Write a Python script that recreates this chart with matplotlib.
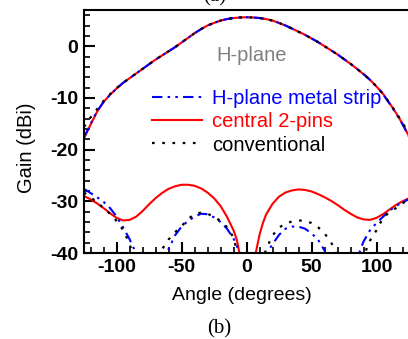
import numpy as np
import matplotlib
matplotlib.use("Agg")
import matplotlib.pyplot as plt
from matplotlib.ticker import MultipleLocator

plt.rcParams["font.family"] = ["Liberation Sans", "DejaVu Sans"]
plt.rcParams["axes.unicode_minus"] = False

# co-polar (main beam)
co_angle = [-125, -120, -115, -110, -105, -100, -95, -90, -85, -80, -75, -70, -65, -60, -55,
            -50, -45, -40, -35, -30, -25, -20, -15, -10, -5, 0, 5, 10, 15, 20, 25, 30, 35,
            40, 45, 50, 55, 60, 65, 70, 75, 80, 85, 90, 95, 100, 105, 110, 115, 120, 125]
co_pins = [-17.8, -15.2, -12.7, -10.8, -9.4, -8.2, -7.1, -6.2, -5.3, -4.4, -3.5, -2.6, -1.8, -1.0, -0.2,
           0.7, 1.6, 2.5, 3.3, 4.0, 4.5, 4.95, 5.25, 5.45, 5.55, 5.6, 5.55, 5.45, 5.25, 4.95, 4.5, 4.0, 3.4,
           2.8, 2.2, 1.5, 0.8, 0.0, -0.8, -1.6, -2.5, -3.4, -4.4, -5.4, -6.5, -7.8, -9.2, -11.0, -12.9, -15.0, -17.4]
co_strip = [-17.6, -15.1, -12.6, -10.8, -9.4, -8.2, -7.1, -6.2, -5.3, -4.4, -3.5, -2.6, -1.8, -1.0, -0.2,
            0.7, 1.6, 2.5, 3.3, 4.0, 4.5, 4.95, 5.25, 5.45, 5.55, 5.6, 5.55, 5.45, 5.25, 4.95, 4.5, 4.0, 3.4,
            2.8, 2.2, 1.5, 0.8, 0.0, -0.8, -1.6, -2.5, -3.4, -4.4, -5.4, -6.5, -7.8, -9.3, -11.1, -13.0, -15.1, -17.5]
co_conv = [-15.6, -13.8, -12.2, -10.6, -9.3, -8.1, -7.1, -6.2, -5.3, -4.4, -3.5, -2.6, -1.8, -1.0, -0.2,
           0.7, 1.6, 2.5, 3.3, 4.0, 4.5, 4.95, 5.25, 5.45, 5.55, 5.6, 5.55, 5.45, 5.25, 4.95, 4.5, 4.0, 3.4,
           2.8, 2.2, 1.5, 0.8, 0.0, -0.8, -1.6, -2.5, -3.4, -4.4, -5.4, -6.5, -7.8, -9.2, -11.0, -12.8, -14.8, -16.9]

# cross-polar
x_pins_angle = [-125, -120, -115, -110, -105, -100, -95, -90, -85, -80, -75, -70, -65, -60, -55,
                -50, -45, -40, -35, -30, -25, -20, -15, -10, -7.5, -5, -2.5, 0, 2.5, 5, 7.5, 10,
                12.5, 15, 20, 25, 30, 35, 40, 45, 50, 55, 60, 65, 70, 75, 80, 85, 90, 95, 100,
                105, 110, 115, 120, 125]
x_pins = [-29.0, -29.6, -30.4, -31.3, -32.3, -33.2, -33.7, -33.6, -33.0, -31.9, -30.6, -29.4, -28.4, -27.6, -27.1,
          -26.8, -26.8, -27.0, -27.5, -28.3, -29.4, -30.9, -33.0, -35.6, -37.4, -40.5, -45.0, -55.0, -48.0, -43.0, -39.5, -36.5,
          -34.3, -32.6, -30.5, -29.1, -28.3, -27.9, -27.7, -27.8, -28.1, -28.6, -29.2, -29.9, -30.7, -31.6, -32.4, -33.1, -33.5, -33.6, -33.2,
          -32.5, -31.6, -30.7, -30.0, -29.4]

x_strip_angle = [-125, -120, -115, -110, -105, -100, -95, -90, -85, -80, -75, -70, -65, -62.5, -60,
                 -55, -50, -45, -40, -35, -30, -25, -20, -15, -10, -5, -2.5, 0, 2.5, 5, 10, 15,
                 17.5, 20, 25, 30, 35, 40, 45, 50, 55, 60, 62.5, 65, 70, 75, 80, 85, 87.5, 90,
                 95, 100, 105, 110, 115, 120, 125]
x_strip = [-27.6, -28.4, -29.2, -30.1, -31.3, -32.9, -35.0, -37.3, -40.0, -43.0, -47.0, -47.0, -43.0, -41.0, -39.3,
           -36.6, -34.9, -33.8, -33.0, -32.4, -32.5, -33.1, -34.0, -35.3, -37.2, -40.0, -43.0, -48.0, -50.0, -50.0, -46.0, -40.5,
           -39.3, -38.3, -36.5, -35.3, -34.9, -34.9, -35.3, -36.2, -37.4, -39.5, -41.5, -44.0, -48.0, -50.0, -46.0, -41.5, -39.4, -37.8,
           -35.6, -34.2, -33.0, -31.8, -30.9, -30.2, -29.6]

x_conv_angle = [-125, -120, -115, -110, -105, -100, -95, -90, -87.5, -85, -80, -75, -70, -67.5, -65,
                -60, -55, -50, -45, -40, -35, -30, -25, -20, -15, -10, -7.5, -5, 0, 5, 10, 12.5,
                15, 20, 25, 30, 35, 40, 45, 50, 55, 60, 65, 67.5, 70, 75, 80, 85, 90, 92.5,
                95, 100, 105, 110, 115, 120, 125]
x_conv = [-28.3, -29.2, -30.2, -31.3, -32.4, -33.8, -35.5, -38.2, -40.3, -42.5, -46.0, -47.0, -44.0, -41.5, -39.3,
          -37.4, -36.0, -34.8, -33.5, -32.4, -32.2, -32.4, -33.0, -33.8, -35.0, -37.0, -39.5, -42.0, -48.0, -48.0, -45.0, -41.5,
          -39.3, -36.6, -35.1, -34.3, -33.9, -33.7, -33.8, -34.2, -35.0, -36.2, -37.9, -39.2, -41.0, -45.0, -48.0, -46.0, -41.5, -39.0,
          -37.6, -35.6, -33.2, -32.1, -31.3, -30.4, -29.6]

fig = plt.figure(figsize=(4.08, 3.39), dpi=100)
ax = fig.add_axes([84 / 408, 86 / 339, 325 / 408, 243 / 339])

dashdotdot = (0, (5, 2.5, 1.2, 2.5, 1.2, 2.5))
dotted = (0, (1.2, 3.4))

ln_red, = ax.plot(co_angle, co_pins, color="#ff0000", lw=1.5, label="central 2-pins")
ln_blue, = ax.plot(co_angle, co_strip, color="#0000ff", lw=1.5, ls=dashdotdot, label="H-plane metal strip")
ln_black, = ax.plot(co_angle, co_conv, color="black", lw=1.6, ls=dotted, label="conventional")

ax.plot(x_pins_angle, x_pins, color="#ff0000", lw=1.5)
ax.plot(x_strip_angle, x_strip, color="#0000ff", lw=1.5, ls=dashdotdot)
ax.plot(x_conv_angle, x_conv, color="black", lw=1.6, ls=dotted)

ax.set_xlim(-125, 125)
ax.set_ylim(-40, 7)
ax.xaxis.set_major_locator(MultipleLocator(50))
ax.xaxis.set_minor_locator(MultipleLocator(10))
ax.yaxis.set_major_locator(MultipleLocator(10))
ax.yaxis.set_minor_locator(MultipleLocator(2))
ax.tick_params(which="both", direction="in", top=False, right=False)
ax.tick_params(which="major", length=8, width=1.5, labelsize=14, pad=4)
ax.tick_params(which="minor", length=4.5, width=1.2)
for lab in ax.get_xticklabels() + ax.get_yticklabels():
    lab.set_fontweight("bold")
for sp in ax.spines.values():
    sp.set_linewidth(1.5)
ax.spines["right"].set_visible(False)

ax.text(0.517, 0.811, "H-plane", transform=ax.transAxes, ha="center", va="center",
        fontsize=14.5, color="#808080")
ax.legend([ln_blue, ln_red, ln_black], [l.get_label() for l in (ln_blue, ln_red, ln_black)],
          loc="upper left", bbox_to_anchor=(0.209, 0.673), frameon=False, fontsize=14.5,
          handlelength=2.5, handletextpad=0.5, labelspacing=0.2, borderpad=0, borderaxespad=0,
          labelcolor="linecolor")

fig.text(27 / 408, 1 - 147.5 / 339, "Gain (dBi)", rotation=90, ha="center", va="center", fontsize=14.5)
fig.text(241.5 / 408, 1 - 296 / 339, "Angle (degrees)", ha="center", va="center", fontsize=14)
fig.text(219 / 408, 1 - 329 / 339, "(b)", ha="center", va="center", fontsize=15, family="Liberation Serif")
fig.text(215 / 408, 1 - 1 / 339, "(a)", ha="center", va="baseline", fontsize=15, family="Liberation Serif")

fig.savefig("out.png", dpi=100)
